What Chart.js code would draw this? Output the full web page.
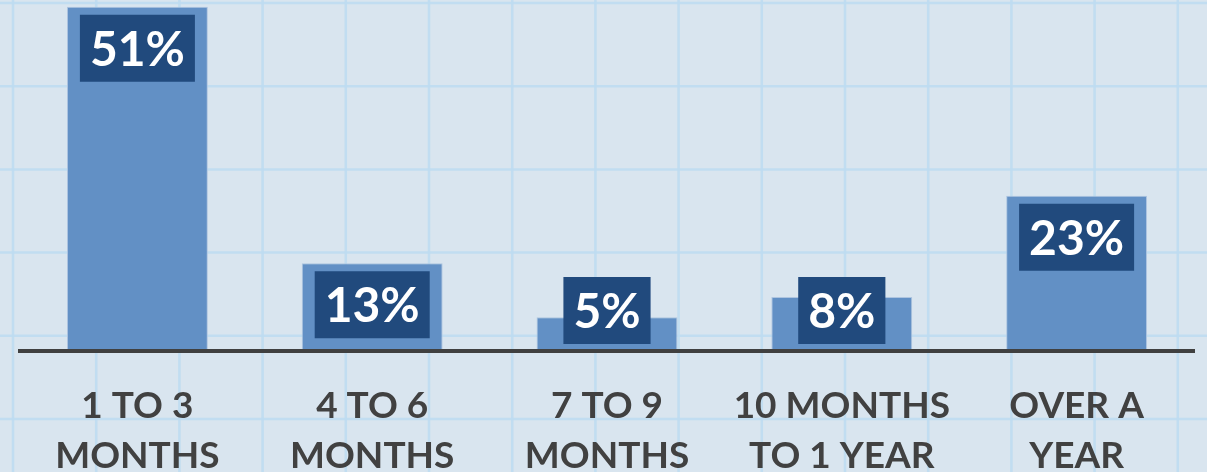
<!DOCTYPE html>
<html>
<head>
<meta charset="utf-8">
<script src="https://cdn.jsdelivr.net/npm/chart.js@4.4.1/dist/chart.umd.min.js"></script>
<style>
    html, body { margin: 0; padding: 0; background: #d9e5ef; }
    #wrap { width: 1207px; height: 472px; position: relative; }
</style>
</head>
<body>
<div id="wrap"><canvas id="myBarChart"></canvas></div>
<script>
const categories = [
    ['1 TO 3', 'MONTHS'],
    ['4 TO 6', 'MONTHS'],
    ['7 TO 9', 'MONTHS'],
    ['10 MONTHS', 'TO 1 YEAR'],
    ['OVER A', 'YEAR']
];
const percentages = [51, 13, 5, 8, 23];

// graph paper background
const paperPlugin = {
    id: 'paper',
    beforeDraw(chart) {
        const ctx = chart.ctx;
        const w = chart.width, h = chart.height;
        ctx.save();
        ctx.fillStyle = '#d9e5ef';
        ctx.fillRect(0, 0, w, h);
        ctx.strokeStyle = 'rgba(190, 219, 241, 0.9)';
        ctx.lineWidth = 2.5;
        const step = 83.2;
        for (let x = 13; x < w; x += step) {
            ctx.beginPath();
            ctx.moveTo(x, 0);
            ctx.lineTo(x, h);
            ctx.stroke();
        }
        for (let y = 3; y < h; y += step) {
            ctx.beginPath();
            ctx.moveTo(0, y);
            ctx.lineTo(w, y);
            ctx.stroke();
        }
        ctx.restore();
    }
};

// dark boxes with the percentages
const valueBoxPlugin = {
    id: 'valueBoxes',
    afterDatasetsDraw(chart) {
        const ctx = chart.ctx;
        const meta = chart.getDatasetMeta(0);
        ctx.save();
        ctx.font = 'bold 48px Lato';
        ctx.textAlign = 'center';
        ctx.textBaseline = 'middle';
        meta.data.forEach((bar, i) => {
            const text = percentages[i] + '%';
            const tw = ctx.measureText(text).width;
            const bw = tw + 20;
            const bh = 67;
            const top = Math.min(bar.y + 8, bar.base - 74);
            ctx.fillStyle = '#214a7d';
            ctx.fillRect(bar.x - bw / 2, top, bw, bh);
            ctx.fillStyle = '#ffffff';
            ctx.fillText(text, bar.x, top + bh / 2 + 2);
        });
        ctx.restore();
    }
};

const ctx = document.getElementById('myBarChart').getContext('2d');
new Chart(ctx, {
    type: 'bar',
    data: {
        labels: categories,
        datasets: [{
            data: percentages,
            backgroundColor: '#6290c5',
            borderColor: '#aec5e0',
            borderWidth: 1,
            barPercentage: 0.6,
            categoryPercentage: 1
        }]
    },
    options: {
        responsive: true,
        maintainAspectRatio: false,
        animation: false,
        layout: { padding: { left: 20, right: 13, top: 0, bottom: 0 } },
        plugins: {
            legend: { display: false },
            tooltip: { enabled: false }
        },
        scales: {
            y: {
                display: false,
                min: 0,
                max: 52
            },
            x: {
                grid: { display: false },
                border: { display: true, color: '#404040', width: 4, z: 1 },
                ticks: {
                    color: '#414141',
                    padding: 22,
                    maxRotation: 0,
                    autoSkip: false,
                    font: { family: 'Lato', weight: 'bold', size: 37, lineHeight: 1.35 }
                },
                afterFit(scale) {
                    scale.height = 121;
                }
            }
        }
    },
    plugins: [paperPlugin, valueBoxPlugin]
});
</script>
</body>
</html>
